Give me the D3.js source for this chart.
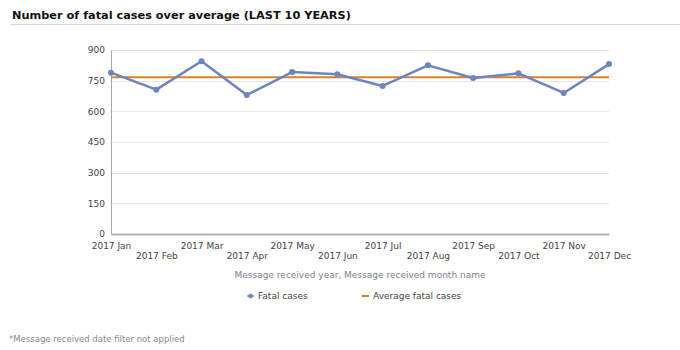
<!DOCTYPE html>
<html><head><meta charset="utf-8">
<script src="https://cdn.jsdelivr.net/npm/d3@7"></script>
<style>body{margin:0;background:#fff;} svg{display:block;}</style>
</head><body>
<svg id="c" width="680" height="350"></svg>
<script>
const months = ["2017 Jan","2017 Feb","2017 Mar","2017 Apr","2017 May","2017 Jun","2017 Jul","2017 Aug","2017 Sep","2017 Oct","2017 Nov","2017 Dec"];
const fatalCases = [789,706,845,680,792,781,724,825,763,786,690,831];
const averageFatal = [767,767,767,767,767,767,767,767,767,767,767,767];
const yTicks = [0,150,300,450,600,750,900];

const svg = d3.select("#c");
const font = "DejaVu Sans, Verdana, sans-serif";
const L = 111, R = 609, T = 50, B = 234;

svg.append("text").attr("x",12).attr("y",18.5).attr("font-family",font).attr("font-weight","bold")
  .attr("font-size",11.3).attr("fill","#111").text("Number of fatal cases over average (LAST 10 YEARS)");
svg.append("line").attr("x1",10).attr("x2",680).attr("y1",24.5).attr("y2",24.5).attr("stroke","#d8d8d8");

const x = d3.scalePoint().domain(months).range([L,R]);
const y = d3.scaleLinear().domain([0,900]).range([B,T]);

// gridlines
svg.append("g").selectAll("line").data(yTicks.filter(d=>d>0)).join("line")
  .attr("x1",L).attr("x2",R).attr("y1",d=>Math.round(y(d))+0.5).attr("y2",d=>Math.round(y(d))+0.5)
  .attr("stroke","#e6e6e6");

// y axis
const ya = svg.append("g").attr("transform",`translate(${L},0)`)
  .call(d3.axisLeft(y).tickValues(yTicks).tickSize(0).tickPadding(6));
ya.select(".domain").attr("stroke","#a8a8a8");
ya.selectAll("text").attr("font-family",font).attr("font-size",9).attr("fill","#444");

// x axis
const xa = svg.append("g").attr("transform",`translate(0,${B})`)
  .call(d3.axisBottom(x).tickSize(0).tickPadding(0));
xa.select(".domain").attr("stroke","#b4b4b4").attr("stroke-width",2);
xa.selectAll("text").attr("font-family",font).attr("font-size",9).attr("fill","#444")
  .attr("dy",null).attr("y",(d,i)=> i%2===0 ? 15 : 25);

svg.append("text").attr("x",(L+R)/2).attr("y",278).attr("text-anchor","middle")
  .attr("font-family",font).attr("font-size",9).attr("fill","#7a7f8c")
  .text("Message received year, Message received month name");

// average line
svg.append("path").datum(averageFatal)
  .attr("d",d3.line().x((d,i)=>x(months[i])).y(d=>y(d)))
  .attr("fill","none").attr("stroke","#d9822b").attr("stroke-width",2);

// fatal line
svg.append("path").datum(fatalCases)
  .attr("d",d3.line().x((d,i)=>x(months[i])).y(d=>y(d)))
  .attr("fill","none").attr("stroke","#6d84bf").attr("stroke-width",2.5).attr("stroke-linejoin","round");
svg.append("g").selectAll("circle").data(fatalCases).join("circle")
  .attr("cx",(d,i)=>x(months[i])).attr("cy",d=>y(d)).attr("r",3).attr("fill","#6d84bf");

// legend
const lg = svg.append("g");
lg.append("path").attr("d","M-3.8,0L0,-2.6L3.8,0L0,2.6Z").attr("transform","translate(250.5,296)").attr("fill","#6d84bf");
lg.append("text").attr("x",258).attr("y",299).attr("font-family",font).attr("font-size",9).attr("fill","#444").text("Fatal cases");
lg.append("line").attr("x1",362).attr("x2",369).attr("y1",296).attr("y2",296).attr("stroke","#d9822b").attr("stroke-width",2);
lg.append("text").attr("x",373).attr("y",299).attr("font-family",font).attr("font-size",9).attr("fill","#444").text("Average fatal cases");

svg.append("text").attr("x",9).attr("y",342).attr("font-family",font).attr("font-size",8.5).attr("fill","#888")
  .text("*Message received date filter not applied");
</script>
</body></html>
